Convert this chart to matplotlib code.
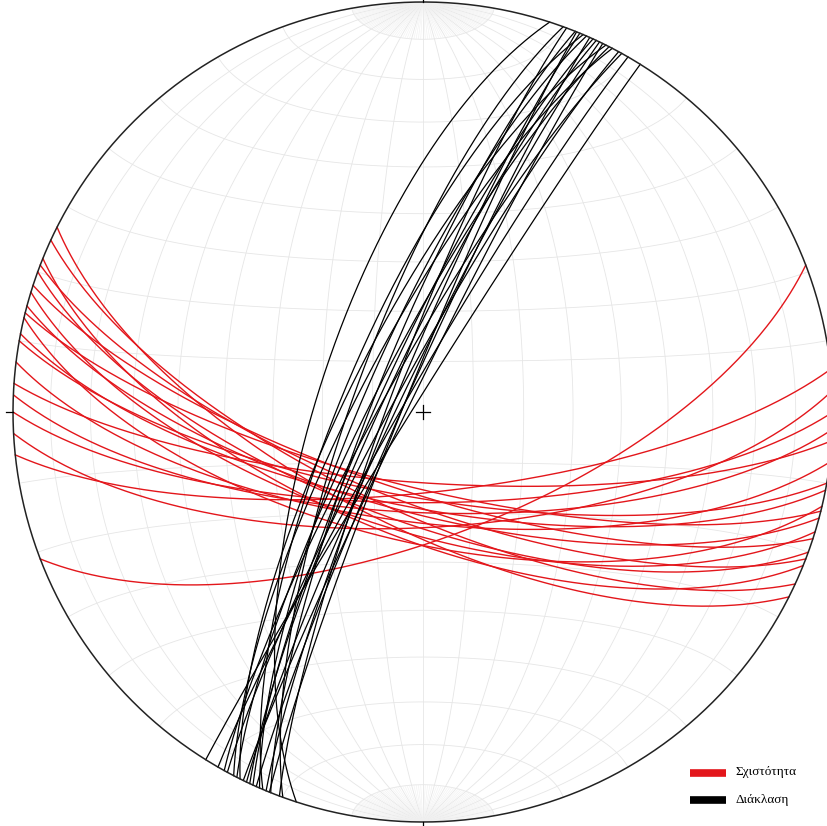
import numpy as np
import matplotlib
matplotlib.use("Agg")
import matplotlib.pyplot as plt
from matplotlib.lines import Line2D

# Σχιστότητα (schistosity) planes: strike (right-hand rule), dip
red_strike = [116.8, 114.8, 112, 111, 110, 108, 107, 105, 104, 103.3,
              101, 100, 97, 94, 92.4, 90, 87, 84, 69]
red_dip = [67, 70, 65, 72, 68, 74, 66, 70, 75, 64,
           71, 73, 68, 76, 70, 72, 67, 74, 65]

# Διάκλαση (joint) planes: strike (right-hand rule), dip
blk_strike = [198, 200, 201.8, 202.5, 203.5, 204, 205, 206, 207, 208.5,
              210, 212, 203, 204.5, 205.5, 207.5, 200.5, 202, 206.5, 209]
blk_dip = [69, 76, 80, 84, 78, 86, 82, 87, 80, 84,
           86, 88, 74, 81, 85, 77, 83, 86, 75, 82]

legend_labels = ["Σχιστότητα", "Διάκλαση"]
red = "#e3161b"


def project(e, n, u):
    # lower hemisphere equal-area (Schmidt), radius 1
    k = np.sqrt(1.0 / (1.0 - u))
    return e * k, n * k


def great_circle(strike, dip, npts=300):
    s = np.radians(strike)
    d = np.radians(dip)
    dd = s + np.pi / 2
    sv = np.array([np.sin(s), np.cos(s), 0.0])
    dv = np.array([np.sin(dd) * np.cos(d), np.cos(dd) * np.cos(d), -np.sin(d)])
    t = np.linspace(0, np.pi, npts)
    v = np.outer(np.cos(t), sv) + np.outer(np.sin(t), dv)
    return project(v[:, 0], v[:, 1], v[:, 2])


def net_point(lam, phi):
    lam = np.radians(lam)
    phi = np.radians(phi)
    e = np.cos(phi) * np.sin(lam)
    n = np.sin(phi) * np.ones_like(lam)
    u = -np.cos(phi) * np.cos(lam)
    return project(e, n, u)


fig = plt.figure(figsize=(8.27, 8.26), dpi=100)
ax = fig.add_axes([13 / 827, 4 / 826, 820 / 827, 820 / 826])
ax.set_xlim(-1, 1)
ax.set_ylim(-1, 1)
ax.axis("off")

grid_kw = dict(color="#e6e6e6", lw=0.6, zorder=1)
phis = np.linspace(-90, 90, 361)
lams = np.linspace(-90, 90, 361)
# meridians every 10 deg
for lam in range(-80, 90, 10):
    x, y = net_point(np.full_like(phis, lam), phis)
    ax.plot(x, y, **grid_kw)
# parallels every 10 deg
for phi in range(-80, 90, 10):
    if phi == 0:
        continue
    x, y = net_point(lams, np.full_like(lams, phi))
    ax.plot(x, y, **grid_kw)
# 2 deg meridians near the poles
cap = np.linspace(80, 90, 30)
for lam in range(-88, 90, 2):
    if lam % 10 == 0:
        continue
    for sgn in (1, -1):
        x, y = net_point(np.full_like(cap, lam), sgn * cap)
        ax.plot(x, y, color="#f0f0f0", lw=0.4, zorder=1)

for s, d in zip(red_strike, red_dip):
    x, y = great_circle(s, d)
    ax.plot(x, y, color=red, lw=1.0, zorder=3)

for s, d in zip(blk_strike, blk_dip):
    x, y = great_circle(s, d)
    ax.plot(x, y, color="black", lw=0.9, zorder=4)

# primitive circle, ticks and centre cross
a = np.linspace(0, 2 * np.pi, 720)
ax.plot(np.cos(a), np.sin(a), color="#222222", lw=1.1, zorder=5, clip_on=False)
for ang in (0, 90, 180, 270):
    r = np.radians(ang)
    ax.plot([np.sin(r), 1.016 * np.sin(r)], [np.cos(r), 1.016 * np.cos(r)],
            color="black", lw=0.9, clip_on=False, zorder=5)
c = 0.017
ax.plot([-c, c], [0, 0], color="black", lw=0.9, zorder=5)
ax.plot([0, 0], [-c, c], color="black", lw=0.9, zorder=5)

# legend
for i, (lab, col) in enumerate(zip(legend_labels, [red, "black"])):
    yy = 1 - (772.5 + 27 * i) / 826
    fig.add_artist(Line2D([690 / 827, 726 / 827], [yy, yy], lw=5.5, color=col,
                          solid_capstyle="butt"))
    fig.text(735 / 827, yy, lab, va="center", ha="left",
             family="Liberation Serif", fontsize=9.5)

fig.savefig("out.png", dpi=100)
